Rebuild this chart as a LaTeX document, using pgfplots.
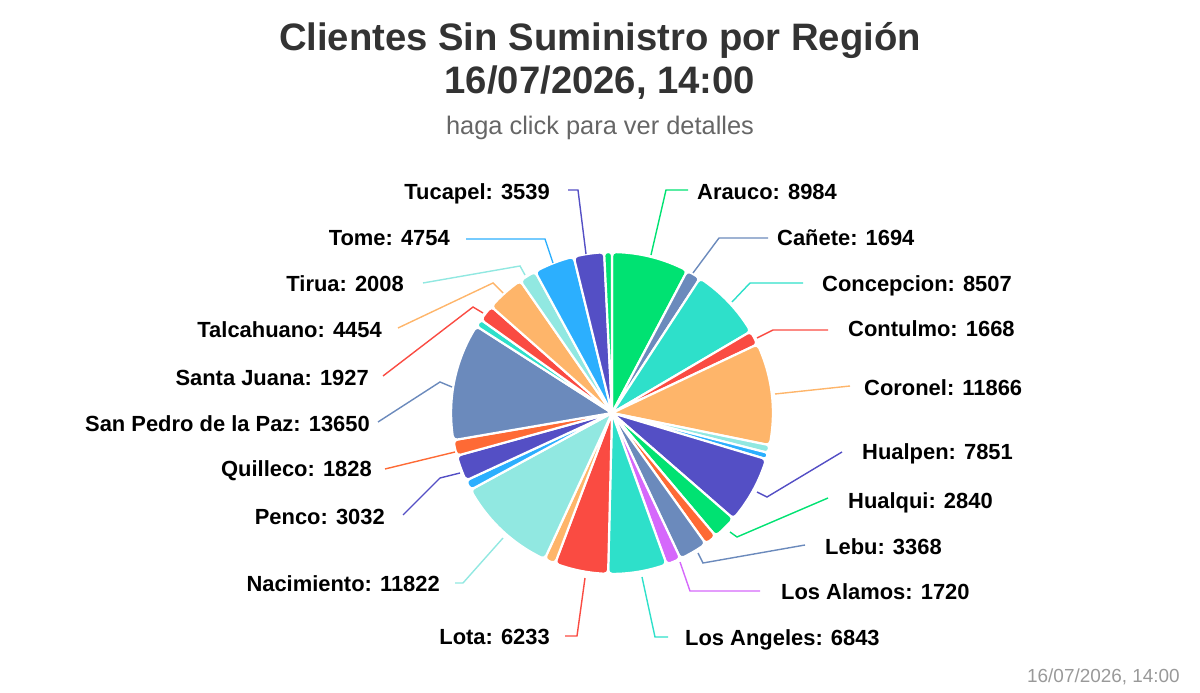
\documentclass[border=0pt]{standalone}
\usepackage{pgfplots}
\pgfplotsset{compat=1.18}
\usepackage{pgfplotstable}
\usepackage{fontspec}
\setmainfont{Liberation Sans}
\definecolor{c0}{HTML}{2CAFFE}
\definecolor{c1}{HTML}{544FC5}
\definecolor{c2}{HTML}{00E272}
\definecolor{c3}{HTML}{FE6A35}
\definecolor{c4}{HTML}{6B8ABC}
\definecolor{c5}{HTML}{D568FB}
\definecolor{c6}{HTML}{2EE0CA}
\definecolor{c7}{HTML}{FA4B42}
\definecolor{c8}{HTML}{FEB56A}
\definecolor{c9}{HTML}{91E8E1}
\definecolor{ttl}{HTML}{333333}
\definecolor{sub}{HTML}{666666}
\definecolor{cred}{HTML}{999999}
\pgfplotstableread[col sep=comma]{
name,value,color
Arauco,8984,c2
Canete,1694,c4
Concepcion,8507,c6
Contulmo,1668,c7
Coronel,11866,c8
Curanilahue,900,c9
Florida,750,c0
Hualpen,7851,c1
Hualqui,2840,c2
Laja,1450,c3
Lebu,3368,c4
LosAlamos,1720,c5
LosAngeles,6843,c6
Lota,6233,c7
Mulchen,1300,c8
Nacimiento,11822,c9
Negrete,1200,c0
Penco,3032,c1
Quilleco,1828,c3
SanPedrodelaPaz,13650,c4
SantaBarbara,900,c6
SantaJuana,1927,c7
Talcahuano,4454,c8
Tirua,2008,c9
Tome,4754,c0
Tucapel,3539,c1
Yumbel,900,c2
}\slices
\newcommand{\lbl}{\fontsize{22}{26}\selectfont\bfseries}
\begin{document}
\begin{tikzpicture}
\begin{axis}[
  scale only axis, width=1200bp, height=692bp,
  xmin=0, xmax=1200, ymin=0, ymax=692,
  axis lines=none, clip=false,
]
\pgfplotstablegetrowsof{\slices}
\pgfmathtruncatemacro\Nrows{\pgfplotsretval-1}
\def\pietotal{0}
\pgfplotsforeachungrouped \i in {0,...,\Nrows}{%
  \pgfplotstablegetelem{\i}{value}\of\slices
  \pgfmathsetmacro\pietotal{\pietotal+\pgfplotsretval/1000}%
}
\def\piecum{0}
\pgfplotsforeachungrouped \i in {0,...,\Nrows}{%
  \pgfplotstablegetelem{\i}{value}\of\slices \let\sval\pgfplotsretval
  \pgfplotstablegetelem{\i}{color}\of\slices \let\scol\pgfplotsretval
  \pgfmathsetmacro\sa{90-360*(\piecum/\pietotal)}%
  \pgfmathsetmacro\piecum{\piecum+\sval/1000}%
  \pgfmathsetmacro\sb{90-360*(\piecum/\pietotal)}%
  \pgfmathsetmacro\arclen{2.81*(\sa-\sb)}%
  \pgfmathtruncatemacro\nsamp{max(2,round(\arclen/10)+1)}%
  \pgfmathsetmacro\rc{min(4,\arclen/2.4)}%
  \edef\temp{\noexpand\addplot[fill=\scol, draw=white, line width=2.2bp, line join=round, rounded corners=\rc bp, domain=\sb:\sa, samples=\nsamp] ({612+161*cos(x)},{279+161*sin(x)}) -- (axis cs:612,279) -- cycle;}%
  \temp
}
% connectors
\addplot[c2, line width=1.4bp] coordinates {(651,437) (666,502) (688,502)};
\addplot[c4, line width=1.4bp] coordinates {(693,419) (719,454) (768,454)};
\addplot[c6, line width=1.4bp] coordinates {(732,390) (750,409) (803,409)};
\addplot[c7, line width=1.4bp] coordinates {(757,354) (773,362) (828,362)};
\addplot[c8, line width=1.4bp] coordinates {(775,298) (850,306)};
\addplot[c1, line width=1.4bp] coordinates {(757,200) (767,195) (842,240)};
\addplot[c2, line width=1.4bp] coordinates {(730,160) (737,155) (828,194)};
\addplot[c4, line width=1.4bp] coordinates {(698,139) (703,129) (805,147)};
\addplot[c5, line width=1.4bp] coordinates {(680,130) (690,101) (760,101)};
\addplot[c6, line width=1.4bp] coordinates {(642,115) (655,55) (668,55)};
\addplot[c7, line width=1.4bp] coordinates {(585,114) (577,56) (565,56)};
\addplot[c9, line width=1.4bp] coordinates {(503,154) (463,109) (455,109)};
\addplot[c1, line width=1.4bp] coordinates {(460,219) (440,214) (403,177)};
\addplot[c3, line width=1.4bp] coordinates {(455,240) (385,223)};
\addplot[c4, line width=1.4bp] coordinates {(452,305) (440,310) (378,270)};
\addplot[c7, line width=1.4bp] coordinates {(483,379) (473,385) (383,316)};
\addplot[c8, line width=1.4bp] coordinates {(503,399) (493,409) (398,364)};
\addplot[c9, line width=1.4bp] coordinates {(525,417) (520,426) (423,409)};
\addplot[c0, line width=1.4bp] coordinates {(553,429) (545,453) (466,453)};
\addplot[c1, line width=1.4bp] coordinates {(586,438) (578,502) (568,502)};
% labels right
\node[anchor=base west, inner sep=0pt, font=\lbl] at (axis cs:697,492) {Arauco: 8984};
\node[anchor=base west, inner sep=0pt, font=\lbl] at (axis cs:777,446) {Cañete: 1694};
\node[anchor=base west, inner sep=0pt, font=\lbl] at (axis cs:822,400) {Concepcion: 8507};
\node[anchor=base west, inner sep=0pt, font=\lbl] at (axis cs:848,355) {Contulmo: 1668};
\node[anchor=base west, inner sep=0pt, font=\lbl] at (axis cs:864,296) {Coronel: 11866};
\node[anchor=base west, inner sep=0pt, font=\lbl] at (axis cs:862,232) {Hualpen: 7851};
\node[anchor=base west, inner sep=0pt, font=\lbl] at (axis cs:848,184) {Hualqui: 2840};
\node[anchor=base west, inner sep=0pt, font=\lbl] at (axis cs:825,138) {Lebu: 3368};
\node[anchor=base west, inner sep=0pt, font=\lbl] at (axis cs:781,93) {Los Alamos: 1720};
\node[anchor=base west, inner sep=0pt, font=\lbl] at (axis cs:685,47) {Los Angeles: 6843};
% labels left
\node[anchor=base east, inner sep=0pt, font=\lbl] at (axis cs:550,48) {Lota: 6233};
\node[anchor=base east, inner sep=0pt, font=\lbl] at (axis cs:440,101) {Nacimiento: 11822};
\node[anchor=base east, inner sep=0pt, font=\lbl] at (axis cs:385,168) {Penco: 3032};
\node[anchor=base east, inner sep=0pt, font=\lbl] at (axis cs:372,215) {Quilleco: 1828};
\node[anchor=base east, inner sep=0pt, font=\lbl] at (axis cs:370,260) {San Pedro de la Paz: 13650};
\node[anchor=base east, inner sep=0pt, font=\lbl] at (axis cs:369,306) {Santa Juana: 1927};
\node[anchor=base east, inner sep=0pt, font=\lbl] at (axis cs:382,354) {Talcahuano: 4454};
\node[anchor=base east, inner sep=0pt, font=\lbl] at (axis cs:404,400) {Tirua: 2008};
\node[anchor=base east, inner sep=0pt, font=\lbl] at (axis cs:450,446) {Tome: 4754};
\node[anchor=base east, inner sep=0pt, font=\lbl] at (axis cs:550,492) {Tucapel: 3539};
% titles
\node[anchor=base, inner sep=0pt, text=ttl, font=\fontsize{38.4}{46}\selectfont\bfseries] at (axis cs:600,641) {Clientes Sin Suministro por Región};
\node[anchor=base, inner sep=0pt, text=ttl, font=\fontsize{38.4}{46}\selectfont\bfseries] at (axis cs:600,598) {16/07/2026, 14:00};
\node[anchor=base, inner sep=0pt, text=sub, font=\fontsize{25.5}{30}\selectfont] at (axis cs:600,557) {haga click para ver detalles};
\node[anchor=base east, inner sep=0pt, text=cred, font=\fontsize{19}{23}\selectfont] at (axis cs:1180,10) {16/07/2026, 14:00};
\end{axis}
\path[use as bounding box] (current axis.south west) rectangle (current axis.north east);
\end{tikzpicture}
\end{document}
